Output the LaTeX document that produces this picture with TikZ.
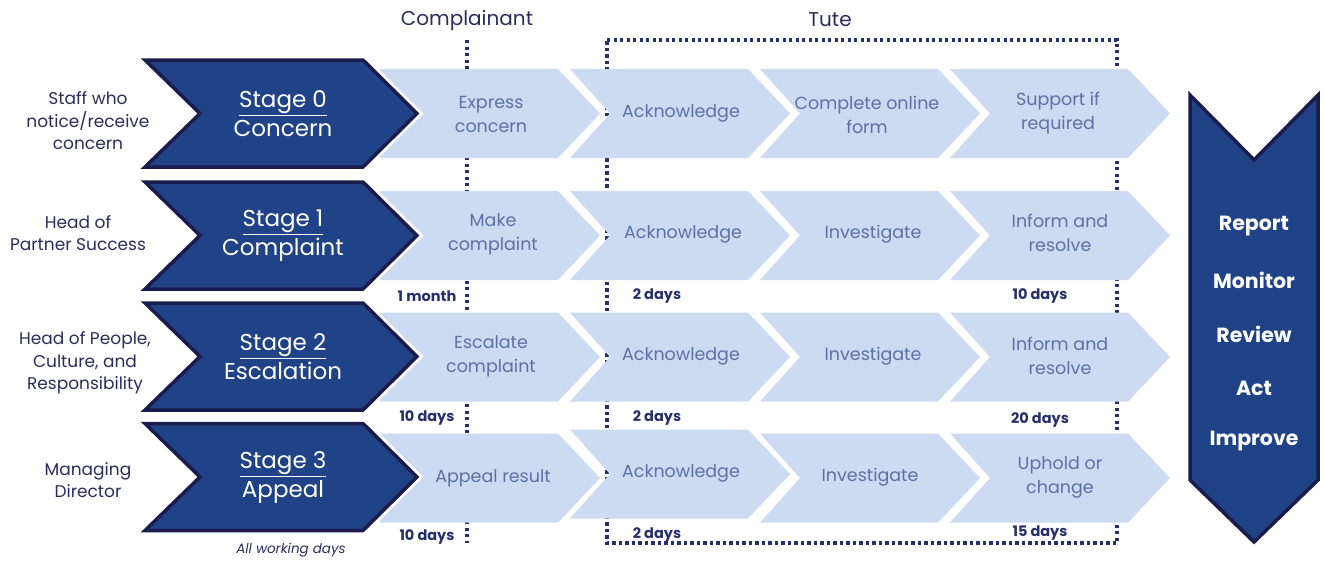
\documentclass[tikz,border=0pt]{standalone}
\usepackage{fontspec}
\setmainfont{Poppins}
\definecolor{darkfill}{HTML}{1F4386}
\definecolor{darkedge}{HTML}{1B1B4D}
\definecolor{lightfill}{HTML}{CCDAF2}
\definecolor{lighttext}{HTML}{5B72A6}
\definecolor{navytext}{HTML}{2A2D5C}
\definecolor{dotc}{HTML}{25306B}
\newcommand\lchev[3]{% left x, centre y, notch depth
  \fill[lightfill] (#1,#2-44.5) -- ++(178,0) -- (#1+220,#2) -- (#1+178,#2+44.5) -- (#1,#2+44.5) -- (#1+#3,#2) -- cycle;}
\newcommand\dchev[1]{% centre y
  \draw[darkhalo] (145,#1-53.5) -- (363,#1-53.5) -- (417,#1) -- (363,#1+53.5) -- (145,#1+53.5) -- (200,#1) -- cycle;
  \draw[darkbox] (145,#1-53.5) -- (363,#1-53.5) -- (417,#1) -- (363,#1+53.5) -- (145,#1+53.5) -- (200,#1) -- cycle;}
\begin{document}
\begin{tikzpicture}[x=1pt,y=-1pt,
  darkhalo/.style={draw=white,line width=9pt,line join=miter},
  darkbox/.style={fill=darkfill,draw=darkedge,line width=3.5pt,line join=miter},
  dotline/.style={draw=dotc,line width=3.1pt,dash pattern=on 3.1pt off 3.4pt},
  ltext/.style={text=lighttext,align=center,font=\fontsize{17.5}{24}\selectfont,inner sep=0pt},
  who/.style={text=navytext,align=center,font=\fontsize{17}{22.5}\selectfont,inner sep=0pt},
  stagetext/.style={text=white,align=center,font=\fontsize{23}{29}\selectfont,inner sep=0pt},
  daytext/.style={text=dotc,font=\bfseries\fontsize{14.5}{16}\selectfont,inner sep=0pt},
  headtext/.style={text=navytext,font=\fontsize{20}{22}\selectfont,inner sep=0pt},
  cycletext/.style={text=white,font=\bfseries\fontsize{20.5}{22}\selectfont,inner sep=0pt}]
\useasboundingbox (0,0) rectangle (1325,560);
% dotted guides (behind the chevrons)
\coordinate (ct) at (467,40);
\coordinate (cb) at (467,543);
\draw[dotline] (ct) -- (cb);
\coordinate (t1) at (607,40);
\coordinate (t2) at (1117,40);
\coordinate (t3) at (1117,543);
\coordinate (t4) at (607,543);
\draw[dotline] (t1) -- (t2) -- (t3) -- (t4) -- cycle;
% light chevrons
\foreach \c in {113.5,235.5,357}{
  \lchev{380}{\c}{0}\lchev{570}{\c}{40}\lchev{760}{\c}{40}\lchev{950}{\c}{40}}
\lchev{380}{478}{0}\lchev{570}{474}{40}\lchev{760}{478}{40}\lchev{950}{478}{40}
% dark stage chevrons
\dchev{113.5}\dchev{235.5}\dchev{356.5}\dchev{477}
% right chevron
\draw[darkbox] (1190,95) -- (1254,160) -- (1318,95) -- (1318,480) -- (1254,542) -- (1190,480) -- cycle;
% headers
\node[headtext] (hc) at (467,20) {Complainant};
\node[headtext] (ht) at (830,20) {Tute};
% who
\node[who] (w0) at (88,121) {Staff who\\notice/receive\\concern};
\node[who] (w1) at (78,233) {Head of\\Partner Success};
\node[who] (w2) at (85,363) {Head of People,\\Culture, and\\Responsibility};
\node[who] (w3) at (88,480) {Managing\\Director};
% stages
\node[stagetext] (s0) at (283,114) {\underline{Stage 0}\\Concern};
\node[stagetext] (s1) at (283,236) {\underline{Stage 1}\\Complaint};
\node[stagetext] (s2) at (283,357) {\underline{Stage 2}\\Escalation};
\node[stagetext] (s3) at (283,478) {\underline{Stage 3}\\Appeal};
% row 0
\node[ltext] (a0) at (491,114) {Express\\concern};
\node[ltext] (b0) at (681,113) {Acknowledge};
\node[ltext] (c0) at (867,115) {Complete online\\form};
\node[ltext] (d0) at (1058,113) {Support if\\required};
% row 1
\node[ltext] (a1) at (493,234) {Make\\complaint};
\node[ltext] (b1) at (683,234) {Acknowledge};
\node[ltext] (c1) at (873,234) {Investigate};
\node[ltext] (d1) at (1060,233) {Inform and\\resolve};
% row 2
\node[ltext] (a2) at (491,356) {Escalate\\complaint};
\node[ltext] (b2) at (681,356) {Acknowledge};
\node[ltext] (c2) at (873,356) {Investigate};
\node[ltext] (d2) at (1060,356) {Inform and\\resolve};
% row 3
\node[ltext] (a3) at (493,478) {Appeal result};
\node[ltext] (b3) at (681,473) {Acknowledge};
\node[ltext] (c3) at (870,477) {Investigate};
\node[ltext] (d3) at (1060,477) {Uphold or\\change};
% days
\node[daytext] (m1) at (427,296) {1 month};
\node[daytext] (n1) at (657,296) {2 days};
\node[daytext] (p1) at (1040,296) {10 days};
\node[daytext] (m2) at (427,418) {10 days};
\node[daytext] (n2) at (657,418) {2 days};
\node[daytext] (p2) at (1040,420) {20 days};
\node[daytext] (m3) at (427,537) {10 days};
\node[daytext] (n3) at (657,535) {2 days};
\node[daytext] (p3) at (1040,533) {15 days};
\node[text=navytext,font=\itshape\fontsize{13.5}{15}\selectfont,inner sep=0pt] (awd) at (291,550) {All working days};
% cycle
\node[cycletext] (r1) at (1254,226) {Report};
\node[cycletext] (r2) at (1254,280) {Monitor};
\node[cycletext] (r3) at (1254,334) {Review};
\node[cycletext] (r4) at (1254,388) {Act};
\node[cycletext] (r5) at (1254,441) {Improve};
\end{tikzpicture}
\end{document}
